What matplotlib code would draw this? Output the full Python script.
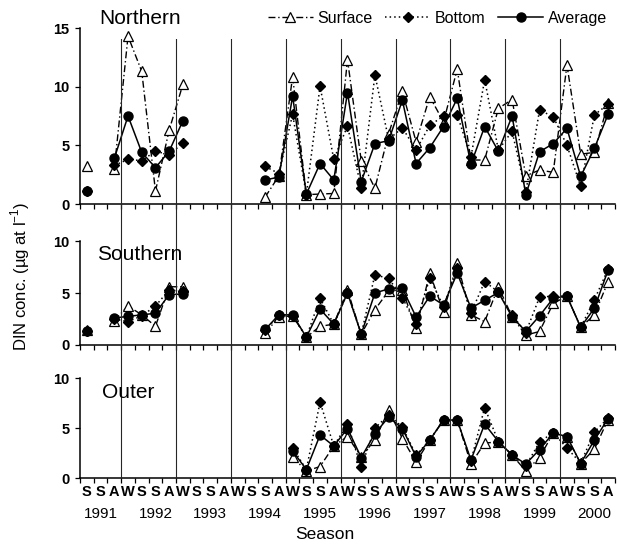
import matplotlib
matplotlib.use("Agg")
import matplotlib.pyplot as plt
import numpy as np

plt.rcParams['font.family'] = ['Liberation Sans', 'DejaVu Sans']
plt.rcParams['mathtext.fontset'] = 'custom'
plt.rcParams['mathtext.rm'] = 'Liberation Sans'

n = np.nan
seasons = ['S', 'S', 'A', 'W'] * 9 + ['S', 'S', 'A']
years = [str(y) for y in range(1991, 2001)]

# Northern
surf_n = [3.2, n, 3.0, 14.3, 11.3, 1.1, 6.3, 10.2, n, n, n, n, n, 0.6, 2.4, 10.85, 0.8, 0.85, 0.9, 12.3,
          3.7, 1.35, 6.0, 9.6, 5.3, 9.15, 7.0, 11.5, 3.75, 3.75, 8.15, 8.9, 2.4, 2.9, 2.7, 11.85, 4.25, 4.4, 8.6]
bot_n = [1.1, n, 3.3, 3.8, 3.7, 4.5, 4.2, 5.2, n, n, n, n, n, 3.2, 2.6, 7.65, 0.8, 10.05, 3.8, 6.65,
         1.35, 11.0, 5.5, 6.5, 4.6, 6.7, 7.5, 7.6, 4.0, 10.6, 4.6, 6.2, 1.0, 8.0, 7.45, 5.0, 1.5, 7.6, 8.5]
avg_n = [1.1, n, 3.9, 7.5, 4.4, 3.1, 4.5, 7.1, n, n, n, n, n, 2.05, 2.3, 9.2, 0.85, 3.45, 2.05, 9.5,
         1.9, 5.15, 5.4, 8.85, 3.45, 4.8, 6.6, 9.0, 3.4, 6.6, 4.5, 7.5, 0.8, 4.45, 5.15, 6.45, 2.35, 4.75, 7.65]

# Southern
surf_s = [1.4, n, 2.35, 3.75, 2.9, 1.8, 5.6, 5.6, n, n, n, n, n, 1.15, 2.7, 2.8, 0.75, 1.8, 2.0, 5.3,
          1.05, 3.4, 5.2, 5.3, 1.6, 6.9, 3.2, 7.9, 2.9, 2.25, 5.6, 2.7, 0.95, 1.3, 4.0, 4.7, 1.7, 2.9, 6.1]
bot_s = [1.3, n, 2.5, 2.25, 2.8, 3.75, 5.3, 5.15, n, n, n, n, n, 1.4, 2.9, 2.8, 0.75, 4.5, 2.0, 5.0,
         1.05, 6.75, 6.4, 4.55, 2.0, 6.45, 3.7, 7.4, 3.05, 6.1, 5.1, 2.9, 1.2, 4.6, 4.7, 4.7, 1.7, 4.35, 7.3]
avg_s = [1.3, n, 2.6, 2.75, 2.9, 3.05, 4.85, 4.9, n, n, n, n, n, 1.5, 2.9, 2.9, 0.75, 3.45, 2.0, 5.0,
         1.05, 5.0, 5.4, 5.45, 2.7, 4.7, 3.85, 6.9, 3.55, 4.3, 5.05, 2.7, 1.3, 2.8, 4.5, 4.7, 1.7, 3.55, 7.2]

# Outer
surf_o = [n] * 15 + [2.1, 0.7, 1.15, 3.2, 4.15, 2.15, 3.8, 6.8, 3.95, 1.6, 3.8, 5.8, 5.8, 1.4, 3.5,
                     3.6, 2.3, 0.7, 2.05, 4.5, 4.1, 1.45, 2.9, 5.85]
bot_o = [n] * 15 + [3.0, 0.85, 7.6, 3.2, 5.4, 1.1, 5.0, 6.3, 5.1, 2.3, 3.8, 5.8, 5.8, 1.7, 7.05,
                    3.65, 2.3, 1.2, 3.6, 4.55, 3.0, 1.5, 4.6, 6.0]
avg_o = [n] * 15 + [2.7, 0.85, 4.3, 3.2, 4.95, 2.05, 4.45, 6.1, 4.95, 2.15, 3.8, 5.8, 5.8, 1.8, 5.4,
                    3.65, 2.3, 1.4, 2.85, 4.5, 4.15, 1.45, 3.8, 5.95]

panels = [('Northern', surf_n, bot_n, avg_n, 15),
          ('Southern', surf_s, bot_s, avg_s, 10),
          ('Outer', surf_o, bot_o, avg_o, 10)]

fig = plt.figure(figsize=(6.17, 5.47), dpi=100)
left, width = 0.1297, 0.867
rects = [[left, 0.627, width, 0.3218],
         [left, 0.3693, width, 0.1901],
         [left, 0.1261, width, 0.1828]]
label_pos = [(0.227, 0.967), (0.227, 0.534), (0.207, 0.283)]

x = np.arange(len(seasons)) + 0.5
axes = []
for k, (name, s, b, a, ymax) in enumerate(panels):
    ax = fig.add_axes(rects[k])
    ax.plot(x, np.array(s, dtype=float), color='black', lw=1.0, ls=(0, (5, 2, 1, 2)),
            marker='^', ms=6.5, mfc='white', mec='black', mew=0.9, label='Surface', zorder=3)
    ax.plot(x, np.array(b, dtype=float), color='black', lw=1.1, ls=(0, (1, 2)),
            marker='D', ms=5, mfc='black', mec='black', label='Bottom', zorder=4)
    ax.plot(x, np.array(a, dtype=float), color='black', lw=1.1, ls='-',
            marker='o', ms=6.5, mfc='black', mec='black', label='Average', zorder=5)
    ax.set_xlim(0, len(seasons))
    ax.set_ylim(0, ymax)
    ax.set_yticks(np.arange(0, ymax + 1, 5))
    ax.set_xticks(np.arange(0, len(seasons) + 1))
    ax.tick_params(axis='x', which='major', direction='out', length=3.5, width=0.9, labelbottom=False)
    ax.tick_params(axis='y', direction='out', length=3.5, width=0.9, labelsize=10.5, pad=4)
    for lab in ax.get_yticklabels():
        lab.set_fontweight('bold')
    for sp in ['top', 'right']:
        ax.spines[sp].set_visible(False)
    for sp in ['left', 'bottom']:
        ax.spines[sp].set_linewidth(1.1)
    ax.patch.set_alpha(0)
    fig.text(label_pos[k][0], label_pos[k][1], name, fontsize=15, ha='center', va='center')
    axes.append(ax)

# season and year labels on the bottom panel
axb = axes[-1]
axb.set_xticks(x, seasons, minor=True)
axb.tick_params(axis='x', which='minor', length=0, pad=5, labelsize=10.5)
for lab in axb.get_xticklabels(minor=True):
    lab.set_fontweight('bold')
trans = axb.get_xaxis_transform()
for j, yr in enumerate(years):
    axb.text(4 * j + 1.5, -0.36, yr, transform=trans, ha='center', va='center', fontsize=11)
fig.text(0.527, 0.022, 'Season', ha='center', va='center', fontsize=12.5)

# vertical separators through all panels
ov = fig.add_axes([left, 0.1261, width, 0.9287 - 0.1261])
ov.set_xlim(0, len(seasons))
ov.set_ylim(0, 1)
ov.axis('off')
for v in range(3, len(seasons), 4):
    ov.axvline(v, color='0.15', lw=0.8, zorder=0)

fig.text(0.032, 0.495, 'DIN conc. (µg at l$^{\\mathregular{-1}}$)', rotation=90,
         ha='center', va='center', fontsize=12)

h, l = axes[0].get_legend_handles_labels()
fig.legend(h, l, loc='center right', bbox_to_anchor=(0.997, 0.967), ncol=3, frameon=False,
           fontsize=11.5, handlelength=2.8, handletextpad=0.3, columnspacing=0.8, borderpad=0)

fig.savefig('out.png', dpi=100)
